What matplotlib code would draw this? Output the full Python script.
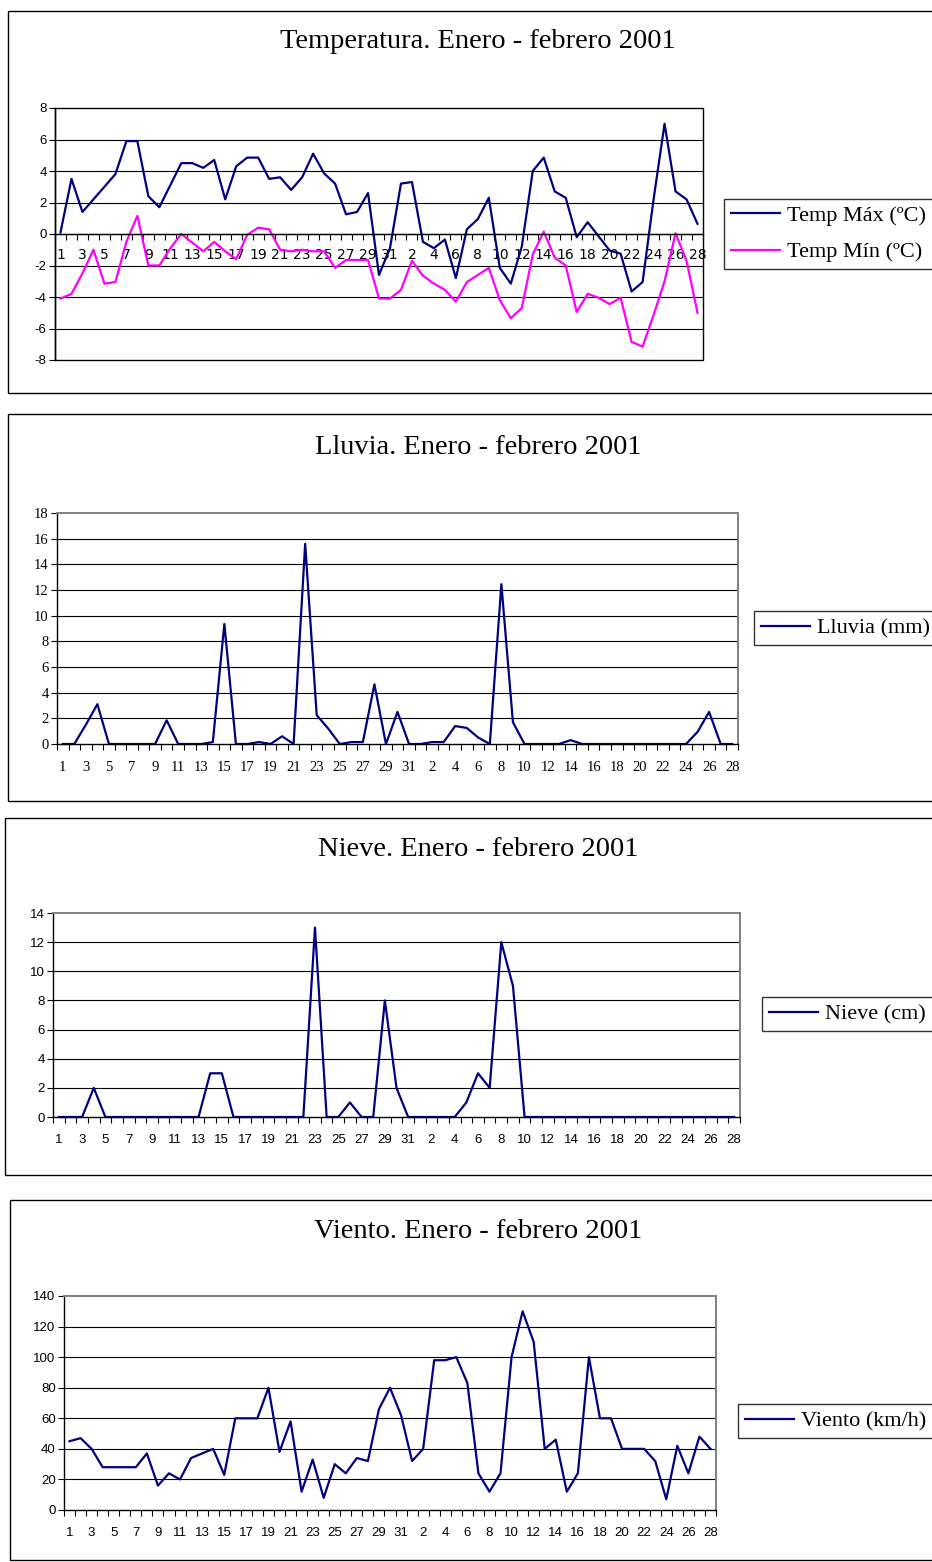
import matplotlib
matplotlib.use('Agg')
import matplotlib.pyplot as plt
from matplotlib.patches import Rectangle
import numpy as np

plt.rcParams['axes.unicode_minus'] = False

# days: january 1-31 then february 1-28
dias = [str(d) for d in range(1, 32)] + [str(d) for d in range(1, 29)]

temp_max = [0.1, 3.5, 1.4, 2.2, 3.0, 3.8, 5.9, 5.9, 2.4, 1.7,
            3.1, 4.5, 4.5, 4.2, 4.7, 2.2, 4.3, 4.85, 4.85, 3.5,
            3.6, 2.8, 3.6, 5.1, 3.85, 3.2, 1.25, 1.4, 2.6, -2.6,
            -0.9, 3.2, 3.3, -0.5, -0.9, -0.35, -2.8, 0.3, 0.95, 2.3,
            -2.15, -3.15, -0.8, 4.0, 4.85, 2.7, 2.3, -0.2, 0.75, -0.15,
            -1.05, -1.25, -3.65, -3.05, 2.2, 7.0, 2.7, 2.2, 0.65]
temp_min = [-4.1, -3.8, -2.5, -1.0, -3.15, -3.05, -0.5, 1.15, -2.0, -2.0,
            -0.9, 0.0, -0.55, -1.1, -0.5, -1.1, -1.6, -0.05, 0.4, 0.3,
            -1.0, -1.1, -1.0, -1.1, -1.1, -2.15, -1.65, -1.65, -1.65, -4.1,
            -4.1, -3.55, -1.7, -2.65, -3.15, -3.55, -4.3, -3.05, -2.6, -2.15,
            -4.2, -5.35, -4.7, -1.3, 0.15, -1.5, -2.0, -4.95, -3.8, -4.05,
            -4.45, -4.05, -6.85, -7.15, -5.15, -3.0, 0.05, -1.7, -5.0]
lluvia = [0, 0, 1.5, 3.1, 0, 0, 0, 0, 0, 1.85,
          0, 0, 0, 0.15, 9.35, 0, 0, 0.15, 0, 0.6,
          0, 15.6, 2.25, 1.2, 0, 0.15, 0.15, 4.65, 0, 2.5,
          0, 0, 0.15, 0.15, 1.4, 1.25, 0.5, 0, 12.45, 1.7,
          0, 0, 0, 0, 0.3, 0, 0, 0, 0, 0,
          0, 0, 0, 0, 0, 0.95, 2.5, 0, 0]
nieve = [0, 0, 0, 2, 0, 0, 0, 0, 0, 0,
         0, 0, 0, 3, 3, 0, 0, 0, 0, 0,
         0, 0, 13, 0, 0, 1, 0, 0, 8, 2,
         0, 0, 0, 0, 0, 1, 3, 2, 12, 9,
         0, 0, 0, 0, 0, 0, 0, 0, 0, 0,
         0, 0, 0, 0, 0, 0, 0, 0, 0]
viento = [45, 47, 40, 28, 28, 28, 28, 37, 16, 24,
          20, 34, 37, 40, 23, 60, 60, 60, 80, 38,
          58, 12, 33, 8, 30, 24, 34, 32, 66, 80,
          62, 32, 40, 98, 98, 100, 83, 24, 12, 24,
          100, 130, 110, 40, 46, 12, 24, 100, 60, 60,
          40, 40, 40, 32, 7, 42, 24, 48, 40]

W, H = 932, 1562
fig = plt.figure(figsize=(W / 100, H / 100), dpi=100)

NAVY = '#000080'
MAG = '#FF00FF'
serif = 'Liberation Serif'
sans = 'Liberation Sans'


def px_axes(x0, y0, x1, y1):
    return fig.add_axes([x0 / W, 1 - y1 / H, (x1 - x0) / W, (y1 - y0) / H])


def box(x0, y0, y1):
    fig.add_artist(Rectangle((x0 / W, 1 - y1 / H), (W + 20 - x0) / W, (y1 - y0) / H,
                             transform=fig.transFigure, fill=False,
                             edgecolor='black', linewidth=1.0))


def panel(rect, series, ylim, ystep, title, title_y, leg_x, leg_y,
          tickfont, tsize, zero_axis=False):
    ax = px_axes(*rect)
    x = np.arange(len(dias))
    lines = []
    for vals, col, lab in series:
        ln, = ax.plot(x, vals, color=col, lw=1.6, label=lab, clip_on=False)
        lines.append(ln)
    ax.set_xlim(-0.5, len(dias) - 0.5)
    ax.set_ylim(*ylim)
    yt = np.arange(ylim[0], ylim[1] + ystep / 2, ystep)
    ax.set_yticks(yt)
    ax.set_yticklabels([str(int(v)) for v in yt], fontfamily=tickfont, fontsize=tsize)
    for v in yt:
        if v != ylim[0] and v != ylim[1]:
            ax.axhline(v, color='black', lw=0.8, zorder=0)
    ax.set_xticks(x[::2])
    ax.set_xticklabels(dias[::2], fontfamily=tickfont, fontsize=tsize)
    ax.set_xticks(np.arange(-0.5, len(dias), 1), minor=True)
    ax.tick_params(axis='x', which='major', length=0, pad=12)
    ax.tick_params(axis='x', which='minor', length=4, width=0.8, direction='out')
    ax.tick_params(axis='y', length=4, width=0.8, direction='out', pad=2)
    for s in ax.spines.values():
        s.set_linewidth(1.0)
    if zero_axis:
        ax.spines['bottom'].set_position(('data', 0))
        ax.spines['top'].set_visible(False)
        ax.spines['right'].set_visible(False)
        ax.add_patch(Rectangle((0, 0), 1, 1, transform=ax.transAxes, fill=False,
                               edgecolor='black', lw=1.0, zorder=0, clip_on=False))
        ax.tick_params(axis='x', which='major', pad=10)
    else:
        ax.spines['top'].set_color('#808080')
        ax.spines['right'].set_color('#808080')
        ax.spines['top'].set_linewidth(1.4)
        ax.spines['right'].set_linewidth(1.4)
    fig.text(478 / W, 1 - title_y / H, title, ha='center', va='center',
             fontfamily=serif, fontsize=20.5)
    leg = fig.legend(handles=lines, loc='center left',
                     bbox_to_anchor=(leg_x / W, 1 - leg_y / H),
                     prop={'family': serif, 'size': 16}, frameon=True,
                     fancybox=False, edgecolor='black', handlelength=2.2,
                     borderpad=0.32, labelspacing=0.7, handletextpad=0.3,
                     borderaxespad=0)
    leg.get_frame().set_linewidth(1.0)
    return ax


box(8, 11, 393)
box(8, 414, 801)
box(5, 818, 1175)
box(10, 1200, 1560)

panel((55, 108, 703, 360),
      [(temp_max, NAVY, 'Temp Máx (ºC)'), (temp_min, MAG, 'Temp Mín (ºC)')],
      (-8, 8), 2, 'Temperatura. Enero - febrero 2001', 42, 724, 234,
      sans, 9.5, zero_axis=True)
panel((57, 513, 738, 744), [(lluvia, NAVY, 'Lluvia (mm)')],
      (0, 18), 2, 'Lluvia. Enero - febrero 2001', 448, 754, 628, serif, 10.5)
panel((53, 913, 740, 1117), [(nieve, NAVY, 'Nieve (cm)')],
      (0, 14), 2, 'Nieve. Enero - febrero 2001', 849, 762, 1014, sans, 9.5)
panel((64, 1296, 716, 1510), [(viento, NAVY, 'Viento (km/h)')],
      (0, 140), 20, 'Viento. Enero - febrero 2001', 1232, 738, 1421, sans, 9.5)

fig.savefig('out.png', dpi=100)
